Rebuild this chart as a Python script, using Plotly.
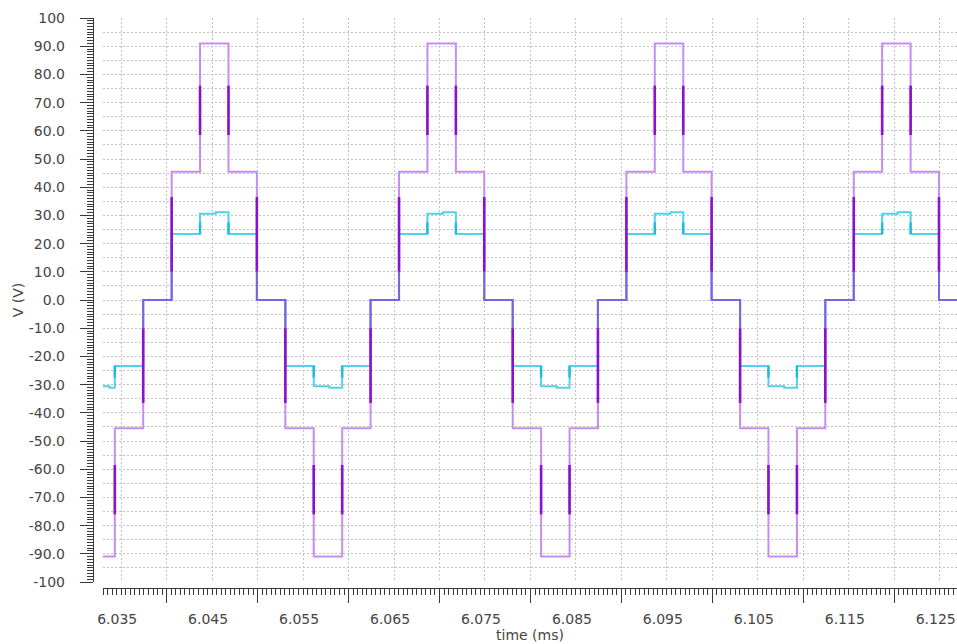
import plotly.graph_objects as go

# ---- data -----------------------------------------------------------------
# switching instants of the 5-level staircase (ms)
t_edges = [6.0343, 6.03742, 6.04055, 6.04367, 6.0468, 6.04992, 6.05305, 6.05617,
           6.0593, 6.06242, 6.06555, 6.06867, 6.0718, 6.07492, 6.07805, 6.08117,
           6.0843, 6.08742, 6.09055, 6.09367, 6.0968, 6.09992, 6.10305, 6.10617,
           6.1093, 6.11242, 6.11555, 6.11867, 6.1218, 6.12492]
t_start = 6.0330
t_end = 6.1269

# phase voltage on each segment (first entry is the level before the first edge)
v_phase = [-91.0, -45.5, 0.0, 45.5, 91.0, 45.5, 0.0, -45.5,
           -91.0, -45.5, 0.0, 45.5, 91.0, 45.5, 0.0, -45.5,
           -91.0, -45.5, 0.0, 45.5, 91.0, 45.5, 0.0, -45.5,
           -91.0, -45.5, 0.0, 45.5, 91.0, 45.5, 0.0]

# load voltage on the same segments
v_load = [-30.6, -23.4, 0.0, 23.4, 30.6, 23.4, 0.0, -23.4,
          -30.6, -23.4, 0.0, 23.4, 30.6, 23.4, 0.0, -23.4,
          -30.6, -23.4, 0.0, 23.4, 30.6, 23.4, 0.0, -23.4,
          -30.6, -23.4, 0.0, 23.4, 30.6, 23.4, 0.0]
load_plateau_late = 31.1     # |V| reached late on the load plateaus

# |V| bands where the switching edges are drawn darker
inner_band = (10.0, 36.5)
outer_band = (58.5, 76.0)
load_band = (23.4, 27.5)

# axis labels
y_label_vals = [-100, -90, -80, -70, -60, -50, -40, -30, -20, -10, 0,
                10, 20, 30, 40, 50, 60, 70, 80, 90, 100]
y_label_text = ["-100", "-90.0", "-80.0", "-70.0", "-60.0", "-50.0", "-40.0",
                "-30.0", "-20.0", "-10.0", "0.0", "10.0", "20.0", "30.0", "40.0",
                "50.0", "60.0", "70.0", "80.0", "90.0", "100"]
x_label_vals = [6.035, 6.045, 6.055, 6.065, 6.075, 6.085, 6.095, 6.105, 6.115, 6.125]
x_label_text = ["6.035", "6.045", "6.055", "6.065", "6.075", "6.085", "6.095",
                "6.105", "6.115", "6.125"]

# ---- colours --------------------------------------------------------------
C_PHASE = "#c78cf0"
C_EDGE = "#8a12cc"
C_ZERO = "#7466e2"
C_LOAD = "#52d2ea"
C_LOAD_EDGE = "#1fbcd8"
C_GRID = "#c2c2c2"
C_AXIS = "#3a3a3a"
C_TEXT = "#454545"

bounds = [t_start] + t_edges + [t_end]


def sgn(v):
    return (v > 0) - (v < 0)


# phase staircase
phase_x = bounds
phase_y = v_phase + [v_phase[-1]]

# load staircase with the small rise on its plateaus
load_x, load_y = [], []
for i, lv in enumerate(v_load):
    load_x.append(bounds[i])
    load_y.append(lv)
    if abs(lv) > 30:
        load_x.append(bounds[i] + 0.55 * (bounds[i + 1] - bounds[i]))
        load_y.append(sgn(lv) * load_plateau_late)
load_x.append(t_end)
load_y.append(v_load[-1])

# darker middle portions of the phase edges
edge_x, edge_y = [], []
for i, t in enumerate(t_edges):
    a, b = v_phase[i], v_phase[i + 1]
    s = sgn(a + b)
    band = inner_band if (a == 0 or b == 0) else outer_band
    edge_x += [t, t, None]
    edge_y += [s * band[0], s * band[1], None]

# zero-level parts, where both traces overlap
zero_x, zero_y = [], []
for i, lv in enumerate(v_phase):
    if lv != 0:
        continue
    t0, t1 = bounds[i], bounds[i + 1]
    if i > 0:
        zero_x.append(t0)
        zero_y.append(sgn(v_phase[i - 1]) * inner_band[0])
    zero_x += [t0, t1]
    zero_y += [0, 0]
    if i + 1 < len(v_phase):
        zero_x.append(t1)
        zero_y.append(sgn(v_phase[i + 1]) * inner_band[0])
    zero_x.append(None)
    zero_y.append(None)

# darker lower portions of the load edges between the two plateau levels
ledge_x, ledge_y = [], []
for i, t in enumerate(t_edges):
    a, b = v_load[i], v_load[i + 1]
    if a != 0 and b != 0:
        s = sgn(a)
        ledge_x += [t, t, None]
        ledge_y += [s * load_band[0], s * load_band[1], None]

fig = go.Figure()
fig.add_trace(go.Scatter(x=load_x, y=load_y, mode="lines", line_shape="hv",
                         line=dict(color=C_LOAD, width=2), hoverinfo="skip"))
fig.add_trace(go.Scatter(x=ledge_x, y=ledge_y, mode="lines",
                         line=dict(color=C_LOAD_EDGE, width=2.4), hoverinfo="skip"))
fig.add_trace(go.Scatter(x=phase_x, y=phase_y, mode="lines", line_shape="hv",
                         line=dict(color=C_PHASE, width=2), hoverinfo="skip"))
fig.add_trace(go.Scatter(x=zero_x, y=zero_y, mode="lines",
                         line=dict(color=C_ZERO, width=2), hoverinfo="skip"))
fig.add_trace(go.Scatter(x=edge_x, y=edge_y, mode="lines",
                         line=dict(color=C_EDGE, width=2.6), hoverinfo="skip"))
# empty trace that carries the ruler axes
fig.add_trace(go.Scatter(x=[], y=[], xaxis="x2", yaxis="y2", hoverinfo="skip"))

# grid positions (every 5 V and every 5 us) with labels on alternate lines
y_grid = list(range(-100, 101, 5))
y_grid_text = [y_label_text[y_label_vals.index(v)] if v in y_label_vals else ""
               for v in y_grid]
x_grid = [round(6.035 + 0.005 * k, 3) for k in range(19)]
x_grid_text = [x_label_text[x_label_vals.index(v)] if v in x_label_vals else ""
               for v in x_grid]

W, H = 957, 644
ML, MR, MT, MB = 93, 0, 18, 56
pw, ph = W - ML - MR, H - MT - MB
x_dom = [10 / pw, 1]
y_dom = [6 / ph, 1]
x_range = [t_start, t_end]
y_range = [-100, 100]
font = dict(family="DejaVu Sans", size=14, color=C_TEXT)

fig.update_layout(
    width=W, height=H,
    margin=dict(l=ML, r=MR, t=MT, b=MB, autoexpand=False),
    paper_bgcolor="white", plot_bgcolor="white",
    showlegend=False,
    font=font,
    xaxis=dict(domain=x_dom, range=x_range, anchor="free", position=0,
               automargin=False,
               tickmode="array", tickvals=x_grid, ticktext=x_grid_text,
               ticks="", showline=False, zeroline=False,
               showgrid=True, gridcolor=C_GRID, griddash="2px,2px", gridwidth=1,
               ticklabelstandoff=21, ticklabelshift=-4, ticklabeloverflow="allow",
               tickfont=font,
               title=dict(text="time (ms)", font=font, standoff=0)),
    yaxis=dict(domain=y_dom, range=y_range, anchor="free", position=0,
               automargin=False,
               tickmode="array", tickvals=y_grid, ticktext=y_grid_text,
               ticks="", showline=False, zeroline=False,
               showgrid=True, gridcolor=C_GRID, griddash="2px,2px", gridwidth=1,
               ticklabelstandoff=28, ticklabeloverflow="allow", tickfont=font,
               title=dict(text="V (V)", font=font, standoff=0)),
    xaxis2=dict(overlaying="x", range=x_range, anchor="free", position=0,
                automargin=False,
                showgrid=False, zeroline=False, showticklabels=False,
                showline=True, linecolor=C_AXIS, linewidth=1,
                tickmode="array", tickvals=[round(6.04 + 0.01 * k, 2) for k in range(9)],
                ticks="outside", ticklen=14, tickcolor=C_AXIS, tickwidth=1,
                minor=dict(tickmode="linear", tick0=6.035, dtick=0.0005,
                           ticks="outside", ticklen=6, tickcolor=C_AXIS,
                           showgrid=False)),
    yaxis2=dict(overlaying="y", range=y_range, anchor="free", position=0,
                automargin=False,
                showgrid=False, zeroline=False, showticklabels=False,
                showline=True, linecolor=C_AXIS, linewidth=1,
                tickmode="array", tickvals=y_label_vals,
                ticks="outside", ticklen=13, tickcolor=C_AXIS, tickwidth=1,
                minor=dict(tickmode="linear", tick0=0, dtick=1,
                           ticks="outside", ticklen=6, tickcolor=C_AXIS,
                           showgrid=False)),
)

fig.write_html("out.html")
